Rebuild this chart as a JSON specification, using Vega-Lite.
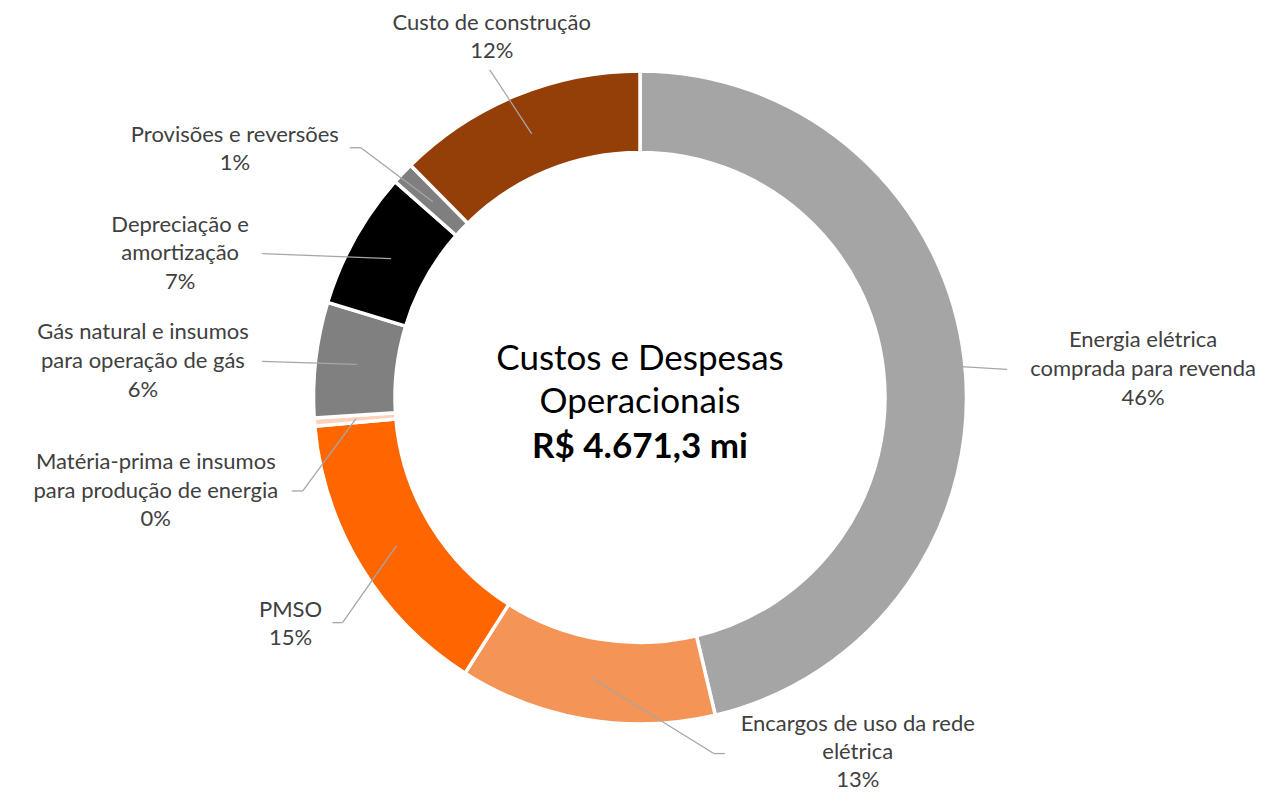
{
  "$schema": "https://vega.github.io/schema/vega-lite/v6.json",
  "width": 1252,
  "height": 795,
  "autosize": {"type": "none"},
  "padding": {"left": 14, "top": 0, "right": 0, "bottom": 0},
  "background": "white",
  "config": {"view": {"stroke": null}, "font": "Lato"},
  "layer": [
    {
      "data": {"values": [
        {"ordem": 1, "categoria": "Energia elétrica comprada para revenda", "rotulo": "Energia elétrica\ncomprada para revenda\n46%", "valor": 2162.8},
        {"ordem": 2, "categoria": "Encargos de uso da rede elétrica", "rotulo": "Encargos de uso da rede\nelétrica\n13%", "valor": 593.3},
        {"ordem": 3, "categoria": "PMSO", "rotulo": "PMSO\n15%", "valor": 682.0},
        {"ordem": 4, "categoria": "Matéria-prima e insumos para produção de energia", "rotulo": "Matéria-prima e insumos\npara produção de energia\n0%", "valor": 18.7},
        {"ordem": 5, "categoria": "Gás natural e insumos para operação de gás", "rotulo": "Gás natural e insumos\npara operação de gás\n6%", "valor": 266.3},
        {"ordem": 6, "categoria": "Depreciação e amortização", "rotulo": "Depreciação e\namortização\n7%", "valor": 317.6},
        {"ordem": 7, "categoria": "Provisões e reversões", "rotulo": "Provisões e reversões\n1%", "valor": 51.4},
        {"ordem": 8, "categoria": "Custo de construção", "rotulo": "Custo de construção\n12%", "valor": 579.2}
      ]},
      "transform": [
        {"window": [{"op": "sum", "field": "valor", "as": "acum"}], "sort": [{"field": "ordem"}], "frame": [null, 0]},
        {"joinaggregate": [{"op": "sum", "field": "valor", "as": "total"}]},
        {"calculate": "2 * PI * (datum.acum - datum.valor / 2) / datum.total", "as": "meio"},
        {"calculate": "285 * sin(datum.meio)", "as": "mx"},
        {"calculate": "285 * cos(datum.meio)", "as": "my"}
      ],
      "layer": [
        {
          "mark": {"type": "arc", "innerRadius": 245, "outerRadius": 326.5, "stroke": "white", "strokeWidth": 3.5},
          "encoding": {
            "theta": {"field": "valor", "type": "quantitative", "stack": true},
            "order": {"field": "ordem", "type": "quantitative"},
            "color": {
              "field": "categoria", "type": "nominal", "legend": null,
              "scale": {
                "domain": ["Energia elétrica comprada para revenda", "Encargos de uso da rede elétrica", "PMSO", "Matéria-prima e insumos para produção de energia", "Gás natural e insumos para operação de gás", "Depreciação e amortização", "Provisões e reversões", "Custo de construção"],
                "range": ["#A5A5A5", "#F59457", "#FF6600", "#FBD3BD", "#808080", "#000000", "#7F7F7F", "#953F08"]
              }
            }
          }
        },
        {
          "transform": [{"filter": "datum.ordem == 1"}],
          "layer": [
            {"mark": {"type": "rule", "color": "#A6A6A6", "strokeWidth": 1.3, "x2Offset": 84, "y2Offset": 5},
             "encoding": {"x": {"field": "mx", "type": "quantitative", "scale": {"domain": [-626, 626], "nice": false, "zero": false}, "axis": null}, "y": {"field": "my", "type": "quantitative", "scale": {"domain": [-397.5, 397.5], "nice": false, "zero": false}, "axis": null}, "x2": {"field": "mx"}, "y2": {"field": "my"}}},
            {"mark": {"type": "text", "align": "center", "baseline": "top", "lineBreak": "\n", "lineHeight": 28.6, "fontSize": 22, "color": "#404040", "dx": 220, "dy": -34},
             "encoding": {"x": {"field": "mx", "type": "quantitative", "scale": {"domain": [-626, 626], "nice": false, "zero": false}, "axis": null}, "y": {"field": "my", "type": "quantitative", "scale": {"domain": [-397.5, 397.5], "nice": false, "zero": false}, "axis": null}, "text": {"field": "rotulo", "type": "nominal"}}}
          ]
        },
        {
          "transform": [{"filter": "datum.ordem == 2"}],
          "layer": [
            {"mark": {"type": "rule", "color": "#A6A6A6", "strokeWidth": 1.3, "x2Offset": 121, "y2Offset": 75},
             "encoding": {"x": {"field": "mx", "type": "quantitative", "scale": {"domain": [-626, 626], "nice": false, "zero": false}, "axis": null}, "y": {"field": "my", "type": "quantitative", "scale": {"domain": [-397.5, 397.5], "nice": false, "zero": false}, "axis": null}, "x2": {"field": "mx"}, "y2": {"field": "my"}}},
            {"mark": {"type": "rule", "color": "#A6A6A6", "strokeWidth": 1.3, "xOffset": 121, "yOffset": 75, "x2Offset": 132, "y2Offset": 75},
             "encoding": {"x": {"field": "mx", "type": "quantitative", "scale": {"domain": [-626, 626], "nice": false, "zero": false}, "axis": null}, "y": {"field": "my", "type": "quantitative", "scale": {"domain": [-397.5, 397.5], "nice": false, "zero": false}, "axis": null}, "x2": {"field": "mx"}, "y2": {"field": "my"}}},
            {"mark": {"type": "text", "align": "center", "baseline": "top", "lineBreak": "\n", "lineHeight": 28.4, "fontSize": 22, "color": "#404040", "dx": 265, "dy": 35},
             "encoding": {"x": {"field": "mx", "type": "quantitative", "scale": {"domain": [-626, 626], "nice": false, "zero": false}, "axis": null}, "y": {"field": "my", "type": "quantitative", "scale": {"domain": [-397.5, 397.5], "nice": false, "zero": false}, "axis": null}, "text": {"field": "rotulo", "type": "nominal"}}}
          ]
        },
        {
          "transform": [{"filter": "datum.ordem == 3"}],
          "layer": [
            {"mark": {"type": "rule", "color": "#A6A6A6", "strokeWidth": 1.3, "x2Offset": -54, "y2Offset": 77},
             "encoding": {"x": {"field": "mx", "type": "quantitative", "scale": {"domain": [-626, 626], "nice": false, "zero": false}, "axis": null}, "y": {"field": "my", "type": "quantitative", "scale": {"domain": [-397.5, 397.5], "nice": false, "zero": false}, "axis": null}, "x2": {"field": "mx"}, "y2": {"field": "my"}}},
            {"mark": {"type": "rule", "color": "#A6A6A6", "strokeWidth": 1.3, "xOffset": -54, "yOffset": 77, "x2Offset": -64, "y2Offset": 77},
             "encoding": {"x": {"field": "mx", "type": "quantitative", "scale": {"domain": [-626, 626], "nice": false, "zero": false}, "axis": null}, "y": {"field": "my", "type": "quantitative", "scale": {"domain": [-397.5, 397.5], "nice": false, "zero": false}, "axis": null}, "x2": {"field": "mx"}, "y2": {"field": "my"}}},
            {"mark": {"type": "text", "align": "center", "baseline": "top", "lineBreak": "\n", "lineHeight": 28.6, "fontSize": 22, "color": "#404040", "dx": -106, "dy": 54},
             "encoding": {"x": {"field": "mx", "type": "quantitative", "scale": {"domain": [-626, 626], "nice": false, "zero": false}, "axis": null}, "y": {"field": "my", "type": "quantitative", "scale": {"domain": [-397.5, 397.5], "nice": false, "zero": false}, "axis": null}, "text": {"field": "rotulo", "type": "nominal"}}}
          ]
        },
        {
          "transform": [{"filter": "datum.ordem == 4"}],
          "layer": [
            {"mark": {"type": "rule", "color": "#A6A6A6", "strokeWidth": 1.3, "x2Offset": -53, "y2Offset": 72},
             "encoding": {"x": {"field": "mx", "type": "quantitative", "scale": {"domain": [-626, 626], "nice": false, "zero": false}, "axis": null}, "y": {"field": "my", "type": "quantitative", "scale": {"domain": [-397.5, 397.5], "nice": false, "zero": false}, "axis": null}, "x2": {"field": "mx"}, "y2": {"field": "my"}}},
            {"mark": {"type": "rule", "color": "#A6A6A6", "strokeWidth": 1.3, "xOffset": -53, "yOffset": 72, "x2Offset": -64, "y2Offset": 72},
             "encoding": {"x": {"field": "mx", "type": "quantitative", "scale": {"domain": [-626, 626], "nice": false, "zero": false}, "axis": null}, "y": {"field": "my", "type": "quantitative", "scale": {"domain": [-397.5, 397.5], "nice": false, "zero": false}, "axis": null}, "x2": {"field": "mx"}, "y2": {"field": "my"}}},
            {"mark": {"type": "text", "align": "center", "baseline": "top", "lineBreak": "\n", "lineHeight": 28.6, "fontSize": 22, "color": "#404040", "dx": -200, "dy": 33},
             "encoding": {"x": {"field": "mx", "type": "quantitative", "scale": {"domain": [-626, 626], "nice": false, "zero": false}, "axis": null}, "y": {"field": "my", "type": "quantitative", "scale": {"domain": [-397.5, 397.5], "nice": false, "zero": false}, "axis": null}, "text": {"field": "rotulo", "type": "nominal"}}}
          ]
        },
        {
          "transform": [{"filter": "datum.ordem == 5"}],
          "layer": [
            {"mark": {"type": "rule", "color": "#A6A6A6", "strokeWidth": 1.3, "x2Offset": -95, "y2Offset": -3},
             "encoding": {"x": {"field": "mx", "type": "quantitative", "scale": {"domain": [-626, 626], "nice": false, "zero": false}, "axis": null}, "y": {"field": "my", "type": "quantitative", "scale": {"domain": [-397.5, 397.5], "nice": false, "zero": false}, "axis": null}, "x2": {"field": "mx"}, "y2": {"field": "my"}}},
            {"mark": {"type": "text", "align": "center", "baseline": "top", "lineBreak": "\n", "lineHeight": 28.6, "fontSize": 22, "color": "#404040", "dx": -214, "dy": -42},
             "encoding": {"x": {"field": "mx", "type": "quantitative", "scale": {"domain": [-626, 626], "nice": false, "zero": false}, "axis": null}, "y": {"field": "my", "type": "quantitative", "scale": {"domain": [-397.5, 397.5], "nice": false, "zero": false}, "axis": null}, "text": {"field": "rotulo", "type": "nominal"}}}
          ]
        },
        {
          "transform": [{"filter": "datum.ordem == 6"}],
          "layer": [
            {"mark": {"type": "rule", "color": "#A6A6A6", "strokeWidth": 1.3, "x2Offset": -129, "y2Offset": -5},
             "encoding": {"x": {"field": "mx", "type": "quantitative", "scale": {"domain": [-626, 626], "nice": false, "zero": false}, "axis": null}, "y": {"field": "my", "type": "quantitative", "scale": {"domain": [-397.5, 397.5], "nice": false, "zero": false}, "axis": null}, "x2": {"field": "mx"}, "y2": {"field": "my"}}},
            {"mark": {"type": "text", "align": "center", "baseline": "top", "lineBreak": "\n", "lineHeight": 28.6, "fontSize": 22, "color": "#404040", "dx": -211, "dy": -44},
             "encoding": {"x": {"field": "mx", "type": "quantitative", "scale": {"domain": [-626, 626], "nice": false, "zero": false}, "axis": null}, "y": {"field": "my", "type": "quantitative", "scale": {"domain": [-397.5, 397.5], "nice": false, "zero": false}, "axis": null}, "text": {"field": "rotulo", "type": "nominal"}}}
          ]
        },
        {
          "transform": [{"filter": "datum.ordem == 7"}],
          "layer": [
            {"mark": {"type": "rule", "color": "#A6A6A6", "strokeWidth": 1.3, "x2Offset": -72, "y2Offset": -54},
             "encoding": {"x": {"field": "mx", "type": "quantitative", "scale": {"domain": [-626, 626], "nice": false, "zero": false}, "axis": null}, "y": {"field": "my", "type": "quantitative", "scale": {"domain": [-397.5, 397.5], "nice": false, "zero": false}, "axis": null}, "x2": {"field": "mx"}, "y2": {"field": "my"}}},
            {"mark": {"type": "rule", "color": "#A6A6A6", "strokeWidth": 1.3, "xOffset": -72, "yOffset": -54, "x2Offset": -83, "y2Offset": -54},
             "encoding": {"x": {"field": "mx", "type": "quantitative", "scale": {"domain": [-626, 626], "nice": false, "zero": false}, "axis": null}, "y": {"field": "my", "type": "quantitative", "scale": {"domain": [-397.5, 397.5], "nice": false, "zero": false}, "axis": null}, "x2": {"field": "mx"}, "y2": {"field": "my"}}},
            {"mark": {"type": "text", "align": "center", "baseline": "top", "lineBreak": "\n", "lineHeight": 28.6, "fontSize": 22, "color": "#404040", "dx": -198, "dy": -77},
             "encoding": {"x": {"field": "mx", "type": "quantitative", "scale": {"domain": [-626, 626], "nice": false, "zero": false}, "axis": null}, "y": {"field": "my", "type": "quantitative", "scale": {"domain": [-397.5, 397.5], "nice": false, "zero": false}, "axis": null}, "text": {"field": "rotulo", "type": "nominal"}}}
          ]
        },
        {
          "transform": [{"filter": "datum.ordem == 8"}],
          "layer": [
            {"mark": {"type": "rule", "color": "#A6A6A6", "strokeWidth": 1.3, "x2Offset": -42, "y2Offset": -64},
             "encoding": {"x": {"field": "mx", "type": "quantitative", "scale": {"domain": [-626, 626], "nice": false, "zero": false}, "axis": null}, "y": {"field": "my", "type": "quantitative", "scale": {"domain": [-397.5, 397.5], "nice": false, "zero": false}, "axis": null}, "x2": {"field": "mx"}, "y2": {"field": "my"}}},
            {"mark": {"type": "text", "align": "center", "baseline": "top", "lineBreak": "\n", "lineHeight": 28.6, "fontSize": 22, "color": "#404040", "dx": -40, "dy": -121},
             "encoding": {"x": {"field": "mx", "type": "quantitative", "scale": {"domain": [-626, 626], "nice": false, "zero": false}, "axis": null}, "y": {"field": "my", "type": "quantitative", "scale": {"domain": [-397.5, 397.5], "nice": false, "zero": false}, "axis": null}, "text": {"field": "rotulo", "type": "nominal"}}}
          ]
        }
      ]
    },
    {
      "data": {"values": [{"texto": "Custos e Despesas"}]},
      "mark": {"type": "text", "align": "center", "baseline": "alphabetic", "fontSize": 35, "color": "#000000", "dy": -27.5},
      "encoding": {"text": {"field": "texto", "type": "nominal"}}
    },
    {
      "data": {"values": [{"texto": "Operacionais"}]},
      "mark": {"type": "text", "align": "center", "baseline": "alphabetic", "fontSize": 35, "color": "#000000", "dy": 15},
      "encoding": {"text": {"field": "texto", "type": "nominal"}}
    },
    {
      "data": {"values": [{"texto": "R$ 4.671,3 mi"}]},
      "mark": {"type": "text", "align": "center", "baseline": "alphabetic", "fontSize": 35, "fontWeight": "bold", "color": "#000000", "dy": 60},
      "encoding": {"text": {"field": "texto", "type": "nominal"}}
    }
  ]
}
